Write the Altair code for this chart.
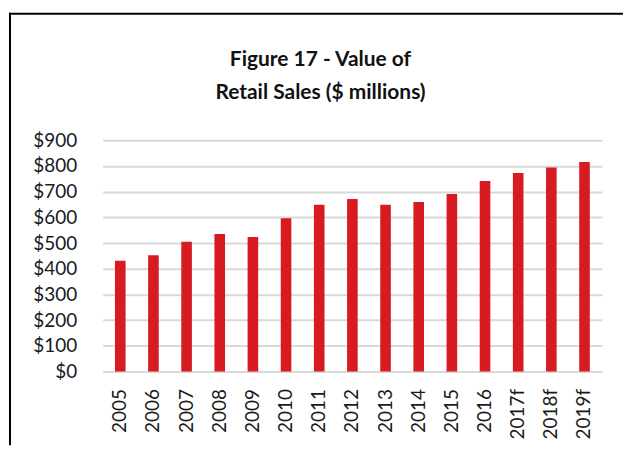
import altair as alt
import pandas as pd

years = ["2005", "2006", "2007", "2008", "2009", "2010", "2011", "2012",
         "2013", "2014", "2015", "2016", "2017f", "2018f", "2019f"]
sales = [431, 453, 505, 535, 524, 597, 649, 671, 649, 660, 691, 742, 773, 794, 815]

df = pd.DataFrame({"year": years, "sales": sales})

FONT = "Lato"

bars = alt.Chart(df).mark_bar(color="#d81b21").encode(
    x=alt.X("year:N", sort=years, title=None,
            scale=alt.Scale(paddingInner=0.68, paddingOuter=0.37),
            axis=alt.Axis(labelAngle=270, labelFontSize=19, labelFont=FONT,
                          labelColor="#1a1a1a", labelPadding=17, ticks=False,
                          domain=False, grid=False)),
    y=alt.Y("sales:Q", title=None,
            scale=alt.Scale(domain=[0, 900], nice=False),
            axis=alt.Axis(values=list(range(0, 901, 100)), format="$d",
                          labelFontSize=19, labelFont=FONT, labelColor="#1a1a1a",
                          labelPadding=26, ticks=False, domain=False,
                          grid=True, gridColor="#d9d9d9", gridWidth=2)),
)

frame_data = alt.Data(values=[{}])
left_rule = alt.Chart(frame_data).mark_rule(color="black", strokeWidth=2).encode(
    x=alt.value(-93), y=alt.value(-128), y2=alt.value(306))
top_rule = alt.Chart(frame_data).mark_rule(color="black", strokeWidth=2).encode(
    x=alt.value(-94), x2=alt.value(522), y=alt.value(-127))

chart = alt.layer(bars, left_rule, top_rule).properties(
    width=501, height=232,
    padding={"left": 0, "top": 3, "right": 0, "bottom": 0},
    title=alt.TitleParams(
        text=["Figure 17 - Value of", "Retail Sales ($ millions)"],
        font=FONT, fontSize=21, fontWeight="bold", color="#111111",
        anchor="middle", dx=-32, lineHeight=34, offset=-92,
    ),
).configure_view(stroke=None)

chart.save("out.html", embed_options={"renderer": "svg", "actions": False})
